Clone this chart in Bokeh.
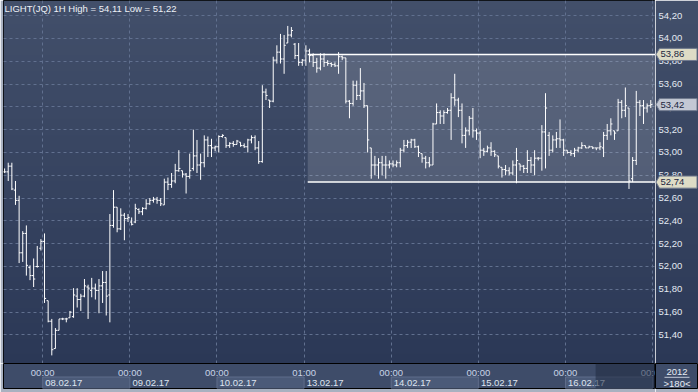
import numpy as np
from bokeh.plotting import figure
from bokeh.layouts import gridplot
from bokeh.models import Range1d, Grid, FixedTicker, ColumnDataSource
from bokeh.core.properties import value
from bokeh.embed import file_html
from bokeh.resources import INLINE

# ---------------- data ----------------
symbol = "LIGHT(JQ)"
timeframe = "1H"

opens = [52.83, 52.83, 52.88, 52.67, 52.58, 52.12, 52.29, 51.99, 51.92, 52.00,
         52.16, 52.22, 51.70, 51.52, 51.28, 51.44, 51.54, 51.54, 51.55, 51.56,
         51.74, 51.71, 51.74, 51.82, 51.79, 51.81, 51.79, 51.83, 51.86, 51.75,
         52.36, 52.52, 52.33, 52.45, 52.42, 52.39, 52.39, 52.50, 52.48, 52.51,
         52.55, 52.58, 52.59, 52.58, 52.54, 52.74, 52.72, 52.75, 52.84, 52.84,
         52.81, 52.79, 52.86, 52.97, 52.89, 52.91, 53.11, 53.06, 53.04, 53.05,
         53.14, 53.13, 53.06, 53.08, 53.07, 53.09, 53.06, 53.05, 53.11, 53.13,
         53.04, 52.92, 53.53, 53.46, 53.45, 53.81, 53.88, 53.82, 53.96, 54.03,
         53.95, 53.85, 53.79, 53.81, 53.89, 53.85, 53.79, 53.74, 53.82, 53.79,
         53.78, 53.77, 53.76, 53.84, 53.83, 53.45, 53.43, 53.59, 53.50, 53.54,
         53.41, 53.04, 52.89, 52.89, 52.91, 52.89, 52.89, 52.90, 52.89, 52.91,
         53.02, 53.06, 53.09, 53.11, 53.05, 52.99, 52.95, 52.91, 52.89, 53.25,
         53.35, 53.32, 53.35, 53.37, 53.48, 53.46, 53.37, 53.15, 53.19, 53.30,
         53.19, 53.17, 53.02, 53.01, 53.04, 53.01, 52.97, 52.87, 52.85, 52.84,
         52.82, 52.89, 52.90, 52.88, 52.86, 52.93, 52.89, 52.95, 52.95, 53.18,
         53.15, 53.02, 53.11, 53.12, 53.11, 53.02, 53.00, 52.99, 53.02, 53.04,
         53.06, 53.04, 53.05, 53.04, 53.04, 53.04, 53.15, 53.19, 53.19, 53.19,
         53.44, 53.37, 53.39, 52.77, 52.93, 53.44, 53.41, 53.39, 53.41]

highs = [52.86, 52.91, 52.91, 52.75, 52.62, 52.31, 52.36, 52.01, 52.07, 52.18,
         52.24, 52.29, 51.70, 51.54, 51.46, 51.54, 51.55, 51.55, 51.61, 51.81,
         51.81, 51.76, 51.89, 51.84, 51.90, 51.85, 51.89, 51.96, 51.96, 52.46,
         52.67, 52.52, 52.51, 52.47, 52.46, 52.43, 52.55, 52.51, 52.52, 52.59,
         52.60, 52.61, 52.61, 52.60, 52.77, 52.78, 52.82, 52.90, 53.02, 52.84,
         52.82, 52.99, 53.20, 53.11, 52.99, 53.15, 53.14, 53.12, 53.06, 53.15,
         53.16, 53.13, 53.09, 53.10, 53.11, 53.09, 53.08, 53.12, 53.15, 53.15,
         53.10, 53.59, 53.56, 53.46, 53.84, 53.94, 54.04, 54.03, 54.11, 54.10,
         53.96, 53.96, 53.82, 53.94, 53.91, 53.87, 53.83, 53.87, 53.87, 53.81,
         53.79, 53.79, 53.88, 53.85, 53.83, 53.46, 53.63, 53.63, 53.74, 53.61,
         53.41, 53.04, 52.97, 52.95, 52.97, 52.97, 52.93, 52.93, 52.93, 53.04,
         53.11, 53.11, 53.12, 53.12, 53.06, 52.99, 52.97, 52.96, 53.26, 53.43,
         53.37, 53.37, 53.39, 53.52, 53.69, 53.48, 53.43, 53.22, 53.32, 53.39,
         53.21, 53.19, 53.04, 53.06, 53.09, 53.02, 52.97, 52.87, 52.89, 52.87,
         52.93, 53.04, 52.90, 52.89, 53.02, 52.96, 53.02, 52.96, 53.24, 53.52,
         53.18, 53.15, 53.18, 53.29, 53.12, 53.02, 53.02, 53.04, 53.05, 53.09,
         53.06, 53.06, 53.05, 53.04, 53.09, 53.18, 53.25, 53.30, 53.19, 53.47,
         53.46, 53.57, 53.39, 52.96, 53.54, 53.46, 53.46, 53.43, 53.46]

lows = [52.82, 52.75, 52.67, 52.54, 52.03, 52.04, 51.92, 51.88, 51.82, 51.99,
        52.14, 51.68, 51.51, 51.22, 51.28, 51.44, 51.53, 51.51, 51.55, 51.55,
        51.64, 51.61, 51.73, 51.54, 51.73, 51.71, 51.59, 51.68, 51.57, 51.51,
        52.34, 52.30, 52.32, 52.23, 52.39, 52.36, 52.38, 52.46, 52.45, 52.50,
        52.54, 52.56, 52.55, 52.53, 52.54, 52.67, 52.69, 52.73, 52.83, 52.78,
        52.64, 52.77, 52.84, 52.82, 52.76, 52.87, 52.96, 52.96, 53.01, 53.00,
        53.13, 53.04, 53.04, 53.05, 53.07, 53.05, 53.04, 53.00, 53.08, 53.02,
        52.90, 52.91, 53.46, 53.39, 53.44, 53.78, 53.78, 53.69, 53.96, 54.01,
        53.82, 53.76, 53.76, 53.76, 53.79, 53.75, 53.70, 53.72, 53.75, 53.76,
        53.75, 53.75, 53.69, 53.81, 53.43, 53.30, 53.41, 53.46, 53.46, 53.39,
        53.00, 52.77, 52.80, 52.77, 52.80, 52.77, 52.86, 52.87, 52.87, 52.87,
        53.00, 53.04, 53.04, 53.04, 52.96, 52.91, 52.86, 52.87, 52.89, 53.25,
        53.25, 53.25, 53.34, 53.11, 53.41, 53.31, 53.08, 53.04, 53.15, 53.13,
        53.11, 52.95, 52.97, 53.00, 52.97, 52.96, 52.86, 52.78, 52.80, 52.80,
        52.80, 52.73, 52.84, 52.82, 52.82, 52.82, 52.80, 52.93, 52.84, 52.86,
        52.97, 53.00, 53.04, 53.04, 52.97, 52.99, 52.97, 52.96, 53.00, 53.03,
        53.04, 53.04, 53.03, 53.02, 53.02, 52.96, 53.11, 53.15, 53.11, 53.19,
        53.30, 53.31, 52.68, 52.74, 52.89, 53.32, 53.25, 53.35, 53.39]

closes = [52.83, 52.88, 52.68, 52.58, 52.12, 52.29, 52.01, 51.92, 51.89, 52.00,
          52.22, 51.72, 51.52, 51.27, 51.44, 51.54, 51.54, 51.54, 51.60, 51.75,
          51.71, 51.74, 51.83, 51.81, 51.81, 51.79, 51.83, 51.86, 51.74, 52.36,
          52.52, 52.33, 52.45, 52.42, 52.43, 52.37, 52.51, 52.48, 52.51, 52.55,
          52.58, 52.59, 52.58, 52.55, 52.74, 52.72, 52.75, 52.84, 52.86, 52.81,
          52.79, 52.84, 52.97, 52.89, 52.91, 53.11, 53.06, 53.04, 53.05, 53.14,
          53.15, 53.06, 53.08, 53.07, 53.10, 53.06, 53.05, 53.11, 53.13, 53.04,
          52.92, 53.53, 53.50, 53.45, 53.81, 53.88, 53.82, 53.94, 54.03, 54.07,
          53.85, 53.79, 53.81, 53.89, 53.85, 53.79, 53.74, 53.82, 53.79, 53.78,
          53.77, 53.76, 53.84, 53.83, 53.45, 53.43, 53.59, 53.50, 53.54, 53.41,
          53.11, 52.89, 52.89, 52.91, 52.89, 52.89, 52.90, 52.89, 52.91, 53.02,
          53.06, 53.09, 53.11, 53.05, 53.00, 52.95, 52.91, 52.89, 53.25, 53.35,
          53.32, 53.35, 53.37, 53.48, 53.46, 53.37, 53.15, 53.19, 53.30, 53.19,
          53.17, 53.02, 53.01, 53.04, 53.01, 52.98, 52.88, 52.85, 52.84, 52.82,
          52.89, 52.93, 52.88, 52.86, 52.93, 52.89, 52.95, 52.95, 53.18, 53.39,
          53.02, 53.11, 53.12, 53.11, 53.02, 53.00, 52.99, 53.02, 53.04, 53.06,
          53.04, 53.05, 53.04, 53.04, 53.05, 53.15, 53.19, 53.25, 53.17, 53.44,
          53.37, 53.41, 52.75, 52.93, 53.44, 53.41, 53.39, 53.41, 53.42]

bar_index = list(range(len(opens)))

day_start_bars = [11, 35, 59, 83, 107, 131, 155, 179]
day_time_labels = ["00:00", "00:00", "00:00", "01:00", "00:00", "00:00", "00:00", "00:00"]
day_date_labels = ["08.02.17", "09.02.17", "10.02.17", "13.02.17", "14.02.17", "15.02.17", "16.02.17"]

price_ticks = [51.4, 51.6, 51.8, 52.0, 52.2, 52.4, 52.6, 52.8, 53.0, 53.2, 53.4, 53.6, 53.8, 54.0, 54.2]

channel_high = 53.86
channel_low = 52.74
channel_start_bar = 83.5
scroll_start_bar = 162.8

year_label = "2012"
bars_label = ">180<"

# ---------------- styles ----------------
FONT = value("Liberation Sans")
X0, X1 = -0.3, 179.3
Y0, Y1 = 51.149, 54.333
FRAME_W, FRAME_H = 652, 363
LEFT_B = 3
RIGHT_W = 43
BOT_H = 25
BOT_B = 4
EDGE = "#a9b1c0"


def fmt(v):
    return f"{v:.2f}".replace(".", ",")


def gradient(top, bottom, n=256):
    t = np.linspace(0.0, 1.0, n)
    img = np.zeros((n, 1), dtype=np.uint32)
    view = img.view(dtype=np.uint8).reshape((n, 1, 4))
    for k in range(3):
        view[:, 0, k] = np.round(bottom[k] + (top[k] - bottom[k]) * t).astype(np.uint8)
    view[:, 0, 3] = 255
    return img


bg_img = gradient((66, 79, 106), (43, 56, 86))

# ---------------- main chart ----------------
x_range = Range1d(X0, X1)
y_range = Range1d(Y0, Y1)

p = figure(width=LEFT_B + FRAME_W, height=FRAME_H, x_range=x_range, y_range=y_range,
           output_backend="svg", toolbar_location=None,
           x_axis_location=None, y_axis_location=None,
           min_border_left=LEFT_B, min_border_right=0, min_border_top=0, min_border_bottom=0)
p.center = []
p.border_fill_color = EDGE
p.background_fill_color = "#363f5c"
p.outline_line_color = "#000000"
p.outline_line_width = 1

p.image_rgba(image=[bg_img], x=X0, y=Y0, dw=X1 - X0, dh=Y1 - Y0, level="image")

day_lines = [b - 0.5 for b in day_start_bars]
p.add_layout(Grid(dimension=0, ticker=FixedTicker(ticks=day_lines),
                  grid_line_color="#61708f", grid_line_dash="3 3", grid_line_width=1))
p.add_layout(Grid(dimension=1, ticker=FixedTicker(ticks=price_ticks),
                  grid_line_color="#61708f", grid_line_dash="3 3", grid_line_width=1))

# channel
p.quad(left=[channel_start_bar], right=[X1], top=[channel_high], bottom=[channel_low],
       fill_color="#ffffff", fill_alpha=0.14, line_color=None)
p.segment(x0=[channel_start_bar, channel_start_bar], y0=[channel_high, channel_low],
          x1=[X1, X1], y1=[channel_high, channel_low], line_color="#ffffff", line_width=1.5)

# OHLC bars
tick = 0.45
src = ColumnDataSource(dict(
    x=bar_index, xl=[i - tick for i in bar_index], xr=[i + tick for i in bar_index],
    o=opens, h=highs, l=lows, c=closes))
p.segment(x0="x", y0="l", x1="x", y1="h", source=src, line_color="#ffffff", line_width=1)
p.segment(x0="xl", y0="o", x1="x", y1="o", source=src, line_color="#ffffff", line_width=1)
p.segment(x0="x", y0="c", x1="xr", y1="c", source=src, line_color="#ffffff", line_width=1)

title = f"{symbol} {timeframe} High = {fmt(max(highs))} Low = {fmt(min(lows))}"
p.text(x=[X0], y=[Y1], text=[title], text_align="left", text_baseline="top",
       x_offset=1, y_offset=2, text_color="#eef1f7", text_font=FONT,
       text_font_size=value("9.5px"))

# ---------------- right price axis ----------------
pr = figure(width=RIGHT_W, height=FRAME_H, x_range=Range1d(0, RIGHT_W), y_range=y_range,
            output_backend="svg", toolbar_location=None,
            x_axis_location=None, y_axis_location=None,
            min_border_left=0, min_border_right=0, min_border_top=0, min_border_bottom=0)
pr.center = []
pr.outline_line_color = None
pr.border_fill_color = "#363f5c"
pr.image_rgba(image=[bg_img], x=0, y=Y0, dw=RIGHT_W, dh=Y1 - Y0, level="image")
pr.text(x=[3] * len(price_ticks), y=price_ticks, text=[fmt(v) for v in price_ticks],
        text_align="left", text_baseline="middle", text_color="#e4e9f2",
        text_font=FONT, text_font_size=value("9.5px"))

label_levels = [channel_high, closes[-1], channel_low]
label_fills = ["#dedcc6", "#c3c8d4", "#dedcc6"]
bh = 0.053
pr.patches(xs=[[0.5, 4.0, 41.5, 41.5, 4.0] for _ in label_levels],
           ys=[[lv, lv + bh, lv + bh, lv - bh, lv - bh] for lv in label_levels],
           fill_color=label_fills, line_color="#707a8e", line_width=1)
pr.text(x=[5] * 3, y=label_levels, text=[fmt(v) for v in label_levels],
        text_align="left", text_baseline="middle", text_color="#1c2640",
        text_font=FONT, text_font_size=value("9.5px"))

# ---------------- bottom time axis ----------------
pb = figure(width=LEFT_B + FRAME_W, height=BOT_H + BOT_B, x_range=x_range,
            y_range=Range1d(0, BOT_H), output_backend="svg", toolbar_location=None,
            x_axis_location=None, y_axis_location=None,
            min_border_left=LEFT_B, min_border_right=0, min_border_top=0, min_border_bottom=BOT_B)
pb.center = []
pb.border_fill_color = EDGE
pb.background_fill_color = "#3e4c69"
pb.outline_line_color = "#000000"

box_left = [day_lines[k] for k in range(0, len(day_date_labels), 2)]
box_right = [day_lines[k + 1] for k in range(0, len(day_date_labels), 2)]
pb.quad(left=box_left, right=box_right, bottom=[0] * len(box_left), top=[11.5] * len(box_left),
        fill_color="#4b5a78", line_color="#5f6d8b", line_width=1)
pb.text(x=day_lines, y=[16.5] * len(day_lines), text=day_time_labels,
        text_align="center", text_baseline="middle", text_color="#c9d3e7",
        text_font=FONT, text_font_size=value("9.5px"))
pb.text(x=[d + 0.7 for d in day_lines[:len(day_date_labels)]], y=[5.5] * len(day_date_labels),
        text=day_date_labels, text_align="left", text_baseline="middle",
        text_color="#dfe5f0", text_font=FONT, text_font_size=value("9.5px"))
pb.quad(left=[scroll_start_bar], right=[X1], bottom=[0], top=[BOT_H],
        fill_color="#1f2940", fill_alpha=0.55, line_color=None)

# ---------------- corner ----------------
pc = figure(width=RIGHT_W, height=BOT_H + BOT_B, x_range=Range1d(0, RIGHT_W),
            y_range=Range1d(0, BOT_H), output_backend="svg", toolbar_location=None,
            x_axis_location=None, y_axis_location=None,
            min_border_left=0, min_border_right=0, min_border_top=0, min_border_bottom=BOT_B)
pc.center = []
pc.border_fill_color = EDGE
pc.background_fill_color = "#3e4c69"
pc.outline_line_color = "#000000"
pc.text(x=[RIGHT_W / 2, RIGHT_W / 2], y=[17, 5.5], text=[year_label, bars_label],
        text_align="center", text_baseline="middle", text_color="#e8ecf4",
        text_font=FONT, text_font_size=value("9.5px"))
pc.segment(x0=[9], y0=[11.2], x1=[34], y1=[11.2], line_color="#c4cbd9", line_width=1)

grid = gridplot([[p, pr], [pb, pc]], toolbar_location=None)

open("out.html", "w").write(file_html(grid, INLINE))
